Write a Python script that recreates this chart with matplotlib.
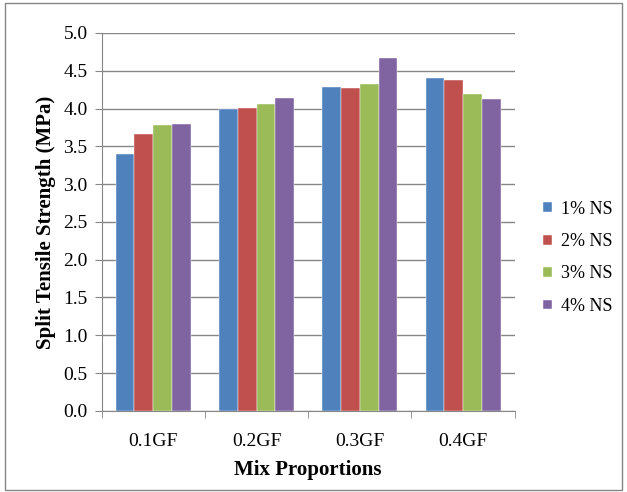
import numpy as np
import matplotlib.pyplot as plt
from matplotlib.patches import Rectangle

# datos
mixes = ["0.1GF", "0.2GF", "0.3GF", "0.4GF"]
ns_1 = [3.40, 4.00, 4.29, 4.40]
ns_2 = [3.66, 4.01, 4.27, 4.38]
ns_3 = [3.78, 4.06, 4.32, 4.19]
ns_4 = [3.80, 4.14, 4.67, 4.12]
series_labels = ["1% NS", "2% NS", "3% NS", "4% NS"]
colors = ["#4F81BD", "#C0504D", "#9BBB59", "#8064A2"]

plt.rcParams['font.family'] = ['Liberation Serif', 'DejaVu Serif']

fig = plt.figure(figsize=(6.27, 4.92), dpi=100)
ax = fig.add_axes([0.162, 0.165, 0.659, 0.768])

x = np.arange(len(mixes))
w = 0.182
for i, vals in enumerate([ns_1, ns_2, ns_3, ns_4]):
    ax.bar(x + (i - 1.5) * w, vals, w, color=colors[i], label=series_labels[i],
           edgecolor="white", linewidth=0.3, zorder=3)

ax.set_xlim(-0.5, 3.5)
ax.set_ylim(0, 5.0)
ax.set_yticks(np.arange(0, 5.01, 0.5))
ax.set_yticklabels([f"{v:.1f}" for v in np.arange(0, 5.01, 0.5)], fontsize=14)
ax.set_xticks(x)
ax.set_xticklabels(mixes, fontsize=14)
ax.set_xticks(np.arange(-0.5, 3.6, 1), minor=True)
ax.tick_params(axis='x', which='major', length=0, pad=16)
ax.tick_params(axis='x', which='minor', length=5, color='#868686', direction='out')
ax.tick_params(axis='y', length=5, color='#868686', direction='out', pad=5)

ax.grid(axis='y', color='#868686', linewidth=1, zorder=0)
for s in ['top', 'right']:
    ax.spines[s].set_visible(False)
for s in ['left', 'bottom']:
    ax.spines[s].set_color('#868686')

ax.set_ylabel("Split Tensile Strength (MPa)", fontsize=15, fontweight='bold', labelpad=5)
ax.set_xlabel("Mix Proportions", fontsize=15, fontweight='bold', labelpad=7)

ax.legend(loc='center left', bbox_to_anchor=(1.03, 0.405), frameon=False,
          fontsize=13, handlelength=0.45, handleheight=0.45, labelspacing=0.85,
          handletextpad=0.5)

# marco exterior
fig.patches.append(Rectangle((0.008, 0.004), 0.984, 0.99, transform=fig.transFigure,
                             fill=False, edgecolor='#868686', linewidth=1))

fig.savefig("out.png", dpi=100)
